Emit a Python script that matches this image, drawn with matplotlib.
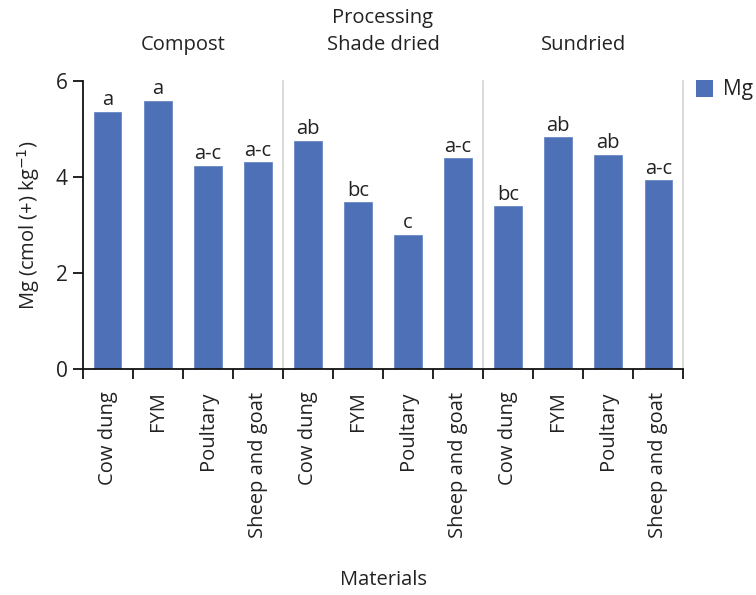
import matplotlib
matplotlib.use("Agg")
import matplotlib.pyplot as plt
import numpy as np
from matplotlib.patches import Rectangle

plt.rcParams['font.family'] = ['Open Sans', 'DejaVu Sans']

materials = ["Cow dung", "FYM", "Poultary", "Sheep and goat"] * 3
groups = ["Compost", "Shade dried", "Sundried"]
mg_values = [5.36, 5.59, 4.24, 4.31, 4.76, 3.48, 2.80, 4.39, 3.40, 4.83, 4.47, 3.93]
letters = ["a", "a", "a-c", "a-c", "ab", "bc", "c", "a-c", "bc", "ab", "ab", "a-c"]

bar_color = "#4E70B7"
text_color = "#222222"
fs = 14.5

fig = plt.figure(figsize=(7.56, 5.95), dpi=100)
ax = fig.add_axes([82.7/756, 1 - 369.3/595, (683.3-82.7)/756, (369.3-81)/595])

x = np.arange(len(mg_values))
bars = ax.bar(x, mg_values, width=0.55, color=bar_color, edgecolor="#6A88C8", linewidth=0.6, zorder=2)
for xi, v, lab in zip(x, mg_values, letters):
    ax.annotate(lab, (xi, v), xytext=(0, 1), textcoords="offset points",
                ha="center", va="bottom", fontsize=fs, color=text_color)

for sep in [3.5, 7.5, 11.5]:
    ax.plot([sep, sep], [0, 6], color="#D3D3D3", linewidth=1.2, zorder=1, clip_on=False)

ax.set_xlim(-0.5, 11.5)
ax.set_ylim(0, 6)
ax.set_yticks([0, 2, 4, 6])
ax.set_xticks(np.arange(-0.5, 12, 1))
ax.set_xticklabels([])
ax.set_xticks(x, minor=True)
ax.set_xticklabels(materials, minor=True, rotation=90, fontsize=fs, color=text_color, va="top")
ax.tick_params(axis="x", which="minor", length=0, pad=16)
ax.tick_params(axis="x", which="major", length=7, width=1.3, direction="out", color="#111111")
ax.tick_params(axis="y", length=7, width=1.3, labelsize=fs + 0.5, labelcolor=text_color, color="#111111", pad=4)

for s in ["top", "right"]:
    ax.spines[s].set_visible(False)
for s in ["left", "bottom"]:
    ax.spines[s].set_linewidth(1.3)
    ax.spines[s].set_color("#111111")

ax.set_ylabel(r"Mg (cmol (+) kg$^{-1}$)", fontsize=fs, color=text_color, labelpad=10)

for i, g in enumerate(groups):
    ax.text(4 * i + 1.5, 6.75, g, ha="center", va="center", fontsize=fs, color=text_color, clip_on=False)
ax.text(5.5, 7.31, "Processing", ha="center", va="center", fontsize=fs, color=text_color, clip_on=False)

fig.text(383 / 756, 1 - 580 / 595, "Materials", ha="center", va="center", fontsize=fs, color=text_color)

fig.patches.append(Rectangle((696 / 756, 1 - 97 / 595), 17 / 756, 17 / 595, transform=fig.transFigure,
                             facecolor=bar_color, edgecolor="none"))
fig.text(723 / 756, 1 - 89 / 595, "Mg", ha="left", va="center", fontsize=fs + 0.5, color=text_color)

fig.savefig("out.png", dpi=100)
